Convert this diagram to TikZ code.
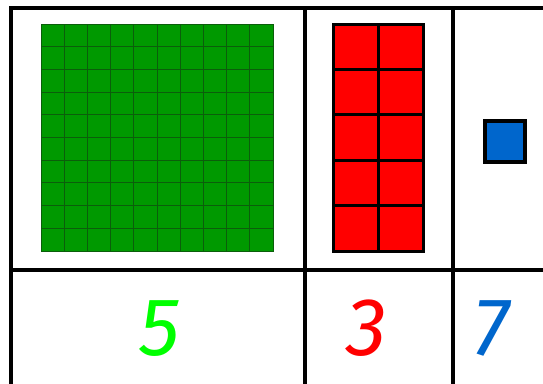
\documentclass[tikz,border=0pt]{standalone}
\usepackage{fontspec}
\setmainfont{Fira Sans}
\usetikzlibrary{positioning}
\definecolor{BaseGreen}{HTML}{009900}
\definecolor{BaseGreenLine}{HTML}{0B5E0B}
\definecolor{BaseRed}{HTML}{FF0000}
\definecolor{BaseBlue}{HTML}{0066CC}
\definecolor{DigitGreen}{HTML}{00FF00}
\tikzset{
  rule/.style={black,line width=4pt},
  hundredcell/.style={draw=BaseGreenLine,line width=1pt},
  tencell/.style={draw=black,line width=3pt},
  unitcell/.style={draw=black,line width=4pt,fill=BaseBlue},
  digit/.style={font=\fontsize{82}{84}\selectfont\itshape,inner sep=0pt,anchor=base},
}

\begin{document}
\begin{tikzpicture}[x=1pt,y=-1pt]
    \useasboundingbox (0,0) rectangle (543,383);

    % table rules
    \draw[rule] (11,390) -- (11,8) -- (550,8);
    \draw[rule] (9,270) -- (550,270);
    \draw[rule] (305,8) -- (305,390);
    \draw[rule] (453,8) -- (453,390);

    % hundreds: 10 x 10 flat
    \fill[BaseGreen] (41,24) rectangle (273,251);
    \foreach \i in {1,...,9} {
      \draw[hundredcell] ({41+23.2*\i},24) -- ({41+23.2*\i},251);
      \draw[hundredcell] (41,{24+22.7*\i}) -- (273,{24+22.7*\i});
    }
    \draw[hundredcell] (41,24) rectangle (273,251);

    % tens: 2 x 5 rods
    \fill[BaseRed] (333,24) rectangle (423,251);
    \draw[tencell] (378,24) -- (378,251);
    \foreach \j in {1,...,4}
      \draw[tencell] (333,{24+45.4*\j}) -- (423,{24+45.4*\j});
    \draw[tencell] (333,24) rectangle (423,251);

    % one unit
    \draw[unitcell] (485,121) rectangle (525,162);

    % digits
    \node[digit,text=DigitGreen] (hundreds) at (160,355) {5};
    \node[digit,text=BaseRed] (tens) at (367,355) {3};
    \node[digit,text=BaseBlue] (units) at (491,355) {7};
  \end{tikzpicture}
\end{document}
